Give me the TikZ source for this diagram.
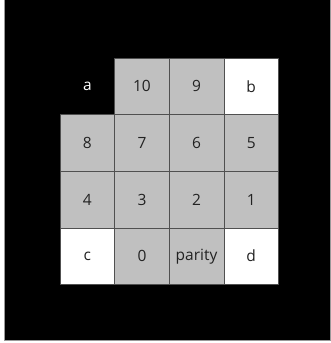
\documentclass[tikz,border=0pt]{standalone}
\usepackage{fontspec}
\setmainfont{Open Sans}
\definecolor{cellgray}{HTML}{C0C0C0}
\definecolor{gridline}{HTML}{505050}
\definecolor{txt}{HTML}{222222}
\begin{document}
\begin{tikzpicture}[x=1pt,y=1pt,
  cell/.style={minimum width=54.625pt,minimum height=56.625pt,inner sep=0pt,outer sep=0pt,
    font=\fontsize{15.5}{18}\selectfont,text=txt,anchor=center},
  graycell/.style={cell,fill=cellgray,draw=gridline,line width=0.7pt},
  whitecell/.style={cell,fill=white,draw=gridline,line width=0.7pt},
  blackcell/.style={cell,fill=black,text=white}]
\useasboundingbox (0,0) rectangle (331,343);
\fill[white] (0,0) rectangle (331,343);
\draw[fill=black,draw=gray!80,line width=0.8pt] (4.5,2.3) rectangle (330.5,344);
% columns centers
\def\cw{54.625}
\def\ch{56.625}
\pgfmathsetmacro{\xa}{60+0.5*\cw}
\pgfmathsetmacro{\xb}{60+1.5*\cw}
\pgfmathsetmacro{\xc}{60+2.5*\cw}
\pgfmathsetmacro{\xd}{60+3.5*\cw}
\pgfmathsetmacro{\ya}{343-58-0.5*\ch}
\pgfmathsetmacro{\yb}{343-58-1.5*\ch}
\pgfmathsetmacro{\yc}{343-58-2.5*\ch}
\pgfmathsetmacro{\yd}{343-58-3.5*\ch}
\node[blackcell] (a) at (\xa,\ya) {a};
\node[graycell] (n10) at (\xb,\ya) {10};
\node[graycell] (n9) at (\xc,\ya) {9};
\node[whitecell] (b) at (\xd,\ya) {b};
\node[graycell] (n8) at (\xa,\yb) {8};
\node[graycell] (n7) at (\xb,\yb) {7};
\node[graycell] (n6) at (\xc,\yb) {6};
\node[graycell] (n5) at (\xd,\yb) {5};
\node[graycell] (n4) at (\xa,\yc) {4};
\node[graycell] (n3) at (\xb,\yc) {3};
\node[graycell] (n2) at (\xc,\yc) {2};
\node[graycell] (n1) at (\xd,\yc) {1};
\node[whitecell] (c) at (\xa,\yd) {c};
\node[graycell] (n0) at (\xb,\yd) {0};
\node[graycell] (par) at (\xc,\yd) {parity};
\node[whitecell] (d) at (\xd,\yd) {d};
\end{tikzpicture}
\end{document}
